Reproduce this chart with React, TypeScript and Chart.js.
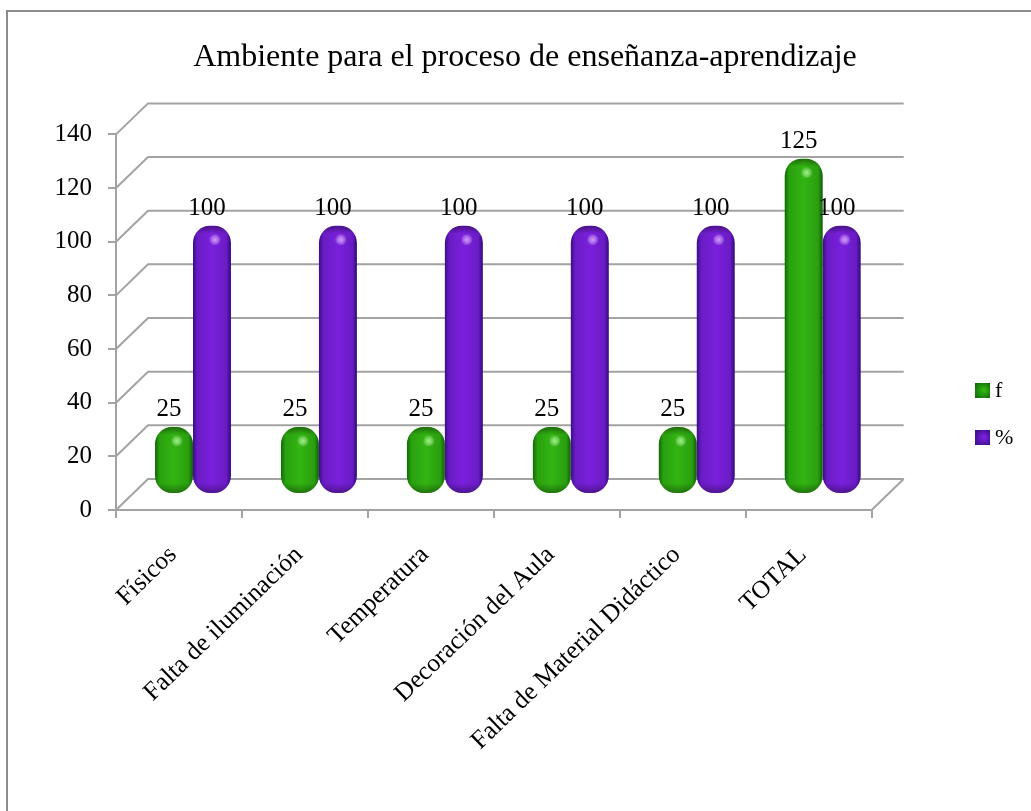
import React, { useEffect, useRef } from "react";
import { Chart, registerables } from "chart.js";

Chart.register(...registerables);

const categories = ["Físicos", "Falta de iluminación", "Temperatura", "Decoración del Aula", "Falta de Material Didáctico", "TOTAL"];
const fValues = [25, 25, 25, 25, 25, 125];
const pctValues = [100, 100, 100, 100, 100, 100];
const titleText = "Ambiente para el proceso de enseñanza-aprendizaje";
const serif = "'Liberation Serif', 'Times New Roman', serif";
const GRID = "#a3a3a3";
const DEPTH_X = 32;
const DEPTH_Y = 31;
const BAR_DX = 14;
const BAR_DY = 16;
const RADIUS = 17;
const GREEN = ["#0f6a08", "#2aa00f", "#33b512", "#2a9e0f", "#0e5c08"];
const PURPLE = ["#3a0d88", "#6a1cc4", "#7a20dd", "#6a1cc4", "#30097a"];

function barFill(ctx: any) {
  const chart = ctx.chart;
  const x = chart.scales.x;
  if (!x || ctx.dataIndex === undefined) return ctx.datasetIndex === 0 ? GREEN[2] : PURPLE[2];
  const cat = x.getPixelForTick(ctx.dataIndex);
  const w = (x.width / categories.length) * 0.603;
  const left = cat - w / 2 + (ctx.datasetIndex === 0 ? 0 : w / 2);
  const g = chart.ctx.createLinearGradient(left, 0, left + w / 2, 0);
  const c = ctx.datasetIndex === 0 ? GREEN : PURPLE;
  g.addColorStop(0, c[0]);
  g.addColorStop(0.12, c[1]);
  g.addColorStop(0.5, c[2]);
  g.addColorStop(0.88, c[3]);
  g.addColorStop(1, c[4]);
  return g;
}

const wallPlugin = {
  id: "wall",
  beforeDraw(chart: any) {
    const { ctx, width, height } = chart;
    ctx.save();
    ctx.fillStyle = "#fff";
    ctx.fillRect(0, 0, width, height);
    ctx.strokeStyle = "#8c8c8c";
    ctx.lineWidth = 2;
    ctx.beginPath();
    ctx.moveTo(7, height);
    ctx.lineTo(7, 11);
    ctx.lineTo(width, 11);
    ctx.stroke();
    ctx.restore();
  },
  beforeDatasetsDraw(chart: any) {
    const { ctx } = chart;
    const x = chart.scales.x;
    const y = chart.scales.y;
    const left = x.left;
    const right = x.right;
    ctx.save();
    ctx.strokeStyle = GRID;
    ctx.lineWidth = 2;
    y.ticks.forEach((t: any) => {
      const py = y.getPixelForValue(t.value);
      ctx.beginPath();
      ctx.moveTo(left, py);
      ctx.lineTo(left + DEPTH_X, py - DEPTH_Y);
      ctx.lineTo(right + DEPTH_X, py - DEPTH_Y);
      ctx.stroke();
    });
    const base = y.getPixelForValue(0);
    ctx.beginPath();
    ctx.moveTo(right, base);
    ctx.lineTo(right + DEPTH_X, base - DEPTH_Y);
    ctx.stroke();
    ctx.restore();
    ctx.save();
    ctx.translate(BAR_DX, -BAR_DY);
  },
  afterDatasetsDraw(chart: any) {
    const { ctx } = chart;
    chart.data.datasets.forEach((ds: any, di: number) => {
      chart.getDatasetMeta(di).data.forEach((el: any) => {
        const l = el.x - el.width / 2;
        const top = el.y;
        const bottom = el.base;
        ctx.save();
        ctx.beginPath();
        ctx.roundRect(l, top, el.width, bottom - top, RADIUS);
        ctx.clip();
        const capT = ctx.createLinearGradient(0, top, 0, top + 8);
        capT.addColorStop(0, "rgba(0,0,0,0.4)");
        capT.addColorStop(1, "rgba(0,0,0,0)");
        ctx.fillStyle = capT;
        ctx.fillRect(l, top, el.width, 8);
        const capB = ctx.createLinearGradient(0, bottom - 10, 0, bottom);
        capB.addColorStop(0, "rgba(0,0,0,0)");
        capB.addColorStop(1, "rgba(0,0,0,0.35)");
        ctx.fillStyle = capB;
        ctx.fillRect(l, bottom - 10, el.width, 10);
        const hx = el.x + 3;
        const hy = top + 14;
        const spot = ctx.createRadialGradient(hx, hy, 0, hx, hy, 6);
        spot.addColorStop(0, di === 0 ? "rgba(150,255,120,0.9)" : "rgba(225,150,255,0.9)");
        spot.addColorStop(1, "rgba(255,255,255,0)");
        ctx.fillStyle = spot;
        ctx.fillRect(hx - 6, hy - 6, 12, 12);
        ctx.restore();
      });
    });
    ctx.restore();
    ctx.save();
    ctx.font = `25px ${serif}`;
    ctx.fillStyle = "#000";
    ctx.textAlign = "center";
    ctx.textBaseline = "middle";
    chart.data.datasets.forEach((ds: any, di: number) => {
      chart.getDatasetMeta(di).data.forEach((el: any, i: number) => {
        ctx.fillText(String(ds.data[i]), el.x + BAR_DX - 5, el.y - BAR_DY - 17);
      });
    });
    ctx.restore();
  },
  afterLayout(chart: any) {
    const lg = chart.legend;
    const shift = 950 - lg.left;
    lg.left += shift;
    lg.right += shift;
    lg.top = 355;
    const t = chart.titleBlock;
    const c = 525 - (t.left + t.right) / 2;
    t.left += c;
    t.right += c;
  },
  afterDraw(chart: any) {
    const { ctx } = chart;
    const lg = chart.legend;
    const pad = lg.options.labels.padding;
    const size = lg.options.labels.font.size;
    const colors = [GREEN, PURPLE];
    colors.forEach((c, i) => {
      const sx = lg.left + pad;
      const sy = lg.top + pad + i * (size + pad) + size / 2 - 8;
      const g = ctx.createRadialGradient(sx + 9, sy + 7, 1, sx + 8, sy + 8, 10);
      g.addColorStop(0, c[2]);
      g.addColorStop(1, c[0]);
      ctx.save();
      ctx.fillStyle = g;
      ctx.fillRect(sx, sy, 15, 15);
      ctx.restore();
    });
  },
};

export default function App() {
  const ref = useRef<HTMLCanvasElement>(null);
  useEffect(() => {
    const chart = new Chart(ref.current!, {
      type: "bar",
      data: {
        labels: categories,
        datasets: [
          { label: "f", data: fValues, backgroundColor: barFill },
          { label: "%", data: pctValues, backgroundColor: barFill },
        ],
      },
      options: {
        animation: false,
        responsive: false,
        layout: { padding: { left: 0, right: 86, top: 0, bottom: 0 } },
        datasets: {
          bar: {
            categoryPercentage: 0.603,
            barPercentage: 1,
            borderRadius: RADIUS,
            borderSkipped: false,
          },
        },
        plugins: {
          title: {
            display: true,
            text: titleText,
            color: "#000",
            font: { family: serif, size: 32, weight: "normal" },
            padding: { top: 38, bottom: 58 },
          },
          legend: {
            position: "right",
            align: "start",
            labels: {
              color: "#000",
              font: { family: serif, size: 22 },
              boxWidth: 9,
              boxHeight: 9,
              padding: 25,
              generateLabels: () => [
                { text: "f", fillStyle: "rgba(0,0,0,0)", strokeStyle: "rgba(0,0,0,0)", lineWidth: 0, datasetIndex: 0 },
                { text: "%", fillStyle: "rgba(0,0,0,0)", strokeStyle: "rgba(0,0,0,0)", lineWidth: 0, datasetIndex: 1 },
              ],
            },
          },
          tooltip: { enabled: false },
        },
        scales: {
          x: {
            offset: true,
            afterFit: (s: any) => { s.height = 811 - 510; },
            grid: {
              offset: true,
              drawOnChartArea: false,
              drawTicks: true,
              tickLength: 8,
              color: GRID,
              lineWidth: 2,
            },
            border: { color: GRID, width: 2 },
            ticks: {
              color: "#000",
              font: { family: serif, size: 25.5 },
              minRotation: 44,
              maxRotation: 44,
              autoSkip: false,
              padding: 22,
              labelOffset: -6,
            },
          },
          y: {
            min: 0,
            max: 140,
            afterFit: (s: any) => { s.width = 116; },
            grid: { drawOnChartArea: false, tickLength: 8, color: GRID, lineWidth: 2 },
            border: { color: GRID, width: 2 },
            ticks: {
              stepSize: 20,
              color: "#000",
              font: { family: serif, size: 25 },
              padding: 16,
            },
          },
        },
      } as any,
      plugins: [wallPlugin],
    });
    return () => chart.destroy();
  }, []);
  return (
    <div style={{ position: "absolute", left: 0, top: 0, width: 1031, height: 811 }}>
      <canvas ref={ref} width={1031} height={811} style={{ display: "block" }} />
    </div>
  );
}
